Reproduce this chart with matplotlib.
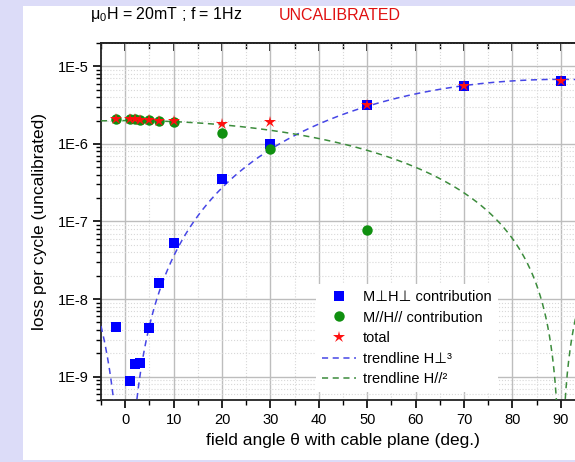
import numpy as np
import matplotlib
matplotlib.use('Agg')
from matplotlib import pyplot as plt
from matplotlib.patches import Rectangle
from matplotlib.ticker import FixedLocator, FuncFormatter, NullFormatter

plt.rcParams['font.family'] = ['Liberation Sans', 'DejaVu Sans']
plt.rcParams['mathtext.fontset'] = 'custom'
plt.rcParams['mathtext.rm'] = 'Liberation Sans'
plt.rcParams['mathtext.it'] = 'Liberation Sans'

# data
ang_perp = [-2, 1, 2, 3, 5, 7, 10, 20, 30, 50, 70, 90]
loss_perp = [4.4e-9, 8.9e-10, 1.45e-9, 1.5e-9, 4.2e-9, 1.6e-8, 5.3e-8, 3.5e-7, 1.0e-6, 3.2e-6, 5.5e-6, 6.5e-6]

ang_par = [-2, 1, 2, 3, 5, 7, 10, 20, 30, 50]
loss_par = [2.1e-6, 2.1e-6, 2.1e-6, 2.05e-6, 2.05e-6, 1.95e-6, 1.9e-6, 1.4e-6, 0.87e-6, 7.7e-8]

ang_tot = [-2, 1, 2, 3, 5, 7, 10, 20, 30, 50, 70, 90]
loss_tot = [2.1e-6, 2.1e-6, 2.1e-6, 2.05e-6, 2.05e-6, 1.95e-6, 1.95e-6, 1.78e-6, 1.9e-6, 3.2e-6, 5.5e-6, 6.5e-6]

# trendline amplitudes (sin^3 and cos^2 of the field angle)
amp_perp = 6.8e-6
amp_par = 2.0e-6

y_major = [1e-9, 1e-8, 1e-7, 1e-6, 1e-5]
x_major = np.arange(0, 91, 10)
x_minor = np.arange(-5, 96, 10)

W, H = 575, 462
fig = plt.figure(figsize=(W / 100, H / 100), dpi=100)
fig.patch.set_facecolor('#dcdcf8')
fig.add_artist(Rectangle((23 / W, 2 / H), 552 / W, 454 / H, transform=fig.transFigure,
                         facecolor='white', edgecolor='none', zorder=-10))

ax = fig.add_axes([101 / W, 62 / H, 484 / W, 357 / H])
ax.set_facecolor('white')

th = np.linspace(-5, 95, 4001)
rad = np.deg2rad(th)
tr_perp = amp_perp * np.abs(np.sin(rad)) ** 3
tr_par = amp_par * np.cos(rad) ** 2

ax.plot(ang_perp, loss_perp, 's', color='#0000ff', ms=6.5, mew=0, label='M⊥H⊥ contribution', zorder=4)
ax.plot(ang_par, loss_par, 'o', color='#109010', ms=7.5, mew=0, label='M//H// contribution', zorder=5)
ax.plot(ang_tot, loss_tot, '*', color='#ff1010', ms=9, mew=0, label='total', zorder=6)
ax.plot(th, tr_perp, '--', color='#4646e6', lw=1.1, dashes=(4, 3), label='trendline H⊥³', zorder=3)
ax.plot(th, tr_par, '--', color='#3c8c3c', lw=1.1, dashes=(4, 3), label='trendline H//²', zorder=3)

ax.set_yscale('log')
ax.set_xlim(-5, 95)
ax.set_ylim(5e-10, 2e-5)

y_minor = [m * d for d in [1e-10, 1e-9, 1e-8, 1e-7, 1e-6, 1e-5] for m in range(2, 10)
           if 5e-10 <= m * d <= 2e-5]
ax.xaxis.set_major_locator(FixedLocator(x_major))
ax.xaxis.set_minor_locator(FixedLocator(x_minor))
ax.yaxis.set_major_locator(FixedLocator(y_major))
ax.yaxis.set_minor_locator(FixedLocator(y_minor))
ax.yaxis.set_minor_formatter(NullFormatter())
ax.yaxis.set_major_formatter(FuncFormatter(lambda v, p: '1E%d' % round(np.log10(v))))

ax.grid(which='major', color='#bdbdbd', lw=1.0, ls='-')
ax.grid(which='minor', color='#d8d8d8', lw=0.8, ls=':')
ax.set_axisbelow(True)

ax.tick_params(axis='both', which='major', labelsize=10.5, direction='out', length=6, width=1.2, pad=3)
ax.tick_params(axis='both', which='minor', direction='out', length=3.5, width=1)
ax.tick_params(axis='x', which='major', pad=3)
ax.tick_params(axis='x', which='both', top=False)
ax.tick_params(axis='y', which='both', right=False)

# top axis: ticks pointing inward, no labels
top = ax.secondary_xaxis('top')
top.xaxis.set_major_locator(FixedLocator(x_major))
top.xaxis.set_minor_locator(FixedLocator(x_minor))
top.tick_params(which='major', direction='in', length=6, width=1.2, labeltop=False)
top.tick_params(which='minor', direction='in', length=4, width=1)
top.spines['top'].set_linewidth(1.3)
top.spines['top'].set_color('#222222')

for s in ax.spines.values():
    s.set_linewidth(1.3)
    s.set_color('#222222')

ax.set_xlabel('field angle θ with cable plane (deg.)', fontsize=12.5, labelpad=5)
ax.set_ylabel('loss per cycle (uncalibrated)', fontsize=12.5, labelpad=8)

leg = ax.legend(loc='upper left', bbox_to_anchor=(0.43, 0.345), fontsize=10.5, frameon=True,
                fancybox=False, edgecolor='none', facecolor='white', framealpha=1,
                handlelength=2.3, handletextpad=0.5, labelspacing=0.45, borderpad=0.4)
leg.set_zorder(7)

fig.text(90 / W, 1 - 15 / H, 'μ$_0$H = 20mT ; f = 1Hz', fontsize=11.5, va='center', ha='left')
fig.text(279 / W, 1 - 15 / H, 'UNCALIBRATED', fontsize=11.5, va='center', ha='left', color='#e01010')

fig.savefig('out.png', dpi=100, facecolor=fig.get_facecolor())
